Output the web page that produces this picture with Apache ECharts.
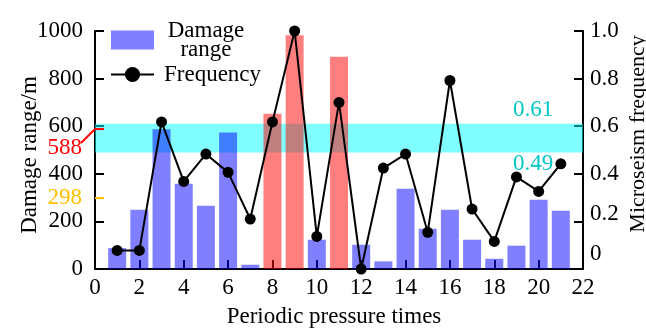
<!DOCTYPE html>
<html>
<head>
<meta charset="utf-8">
<script src="https://cdn.jsdelivr.net/npm/echarts@6/dist/echarts.min.js"></script>
<style>html,body{margin:0;padding:0;background:#fff}#c{width:646px;height:329px}</style>
</head>
<body>
<div id="c"></div>
<script>
const times = [1,2,3,4,5,6,7,8,9,10,11,12,13,14,15,16,17,18,19,20,21];
const damageRange = [88,249,587,358,266,574,18,652,982,123,892,102,32,337,169,249,123,43,98,291,245];
const frequency = [0.078,0.078,0.618,0.368,0.483,0.406,0.21,0.618,1.0,0.137,0.70,0.0,0.424,0.483,0.154,0.792,0.252,0.116,0.387,0.326,0.442];
const redBars = [8,9,11];
const bandLow = 0.49, bandHigh = 0.61;
const mark588 = 588, mark298 = 298;

const FONT = 'Liberation Serif';
const FS = 23;
const BLUE = 'rgba(0,0,255,0.5)';
const RED = 'rgba(255,0,0,0.5)';
const CYANTXT = '#00c8c8';

const chart = echarts.init(document.getElementById('c'), null, {renderer:'canvas'});
const axisCommon = {
  axisLine:{show:true, lineStyle:{color:'#000', width:2}},
  axisTick:{show:true, inside:true, length:9, lineStyle:{color:'#000', width:2}},
  splitLine:{show:false},
  nameMoveOverlap:false,
  axisLabel:{color:'#000', fontFamily:FONT, fontSize:FS},
  nameTextStyle:{color:'#000', fontFamily:FONT, fontSize:FS}
};
const option = {
  animation:false,
  textStyle:{fontFamily:FONT},
  grid:{left:95, right:63, top:31, bottom:60, containLabel:false, outerBoundsMode:'none'},
  legend:{
    left:105, top:14, orient:'vertical', itemGap:2,
    itemWidth:43, itemHeight:19,
    textStyle:{fontFamily:FONT, fontSize:FS, color:'#000'},
    data:[
      {name:'Damage\nrange', icon:'rect', textStyle:{rich:{a:{width:94, align:'center', fontFamily:FONT, fontSize:FS, lineHeight:19}}}},
      {name:'Frequency', textStyle:{padding:[0,0,0,5]}}
    ],
    formatter:function(n){ return n.indexOf('Damage')===0 ? '{a|' + n + '}' : n; }
  },
  xAxis:Object.assign({}, axisCommon, {
    type:'value', min:0, max:22, interval:2,
    name:'Periodic pressure times', nameLocation:'middle', nameGap:36,
    nameTextStyle:{color:'#000', fontFamily:FONT, fontSize:FS, padding:[0,10,0,0]},
    axisLabel:Object.assign({}, axisCommon.axisLabel, {margin:7})
  }),
  yAxis:[
    Object.assign({}, axisCommon, {
      type:'value', min:0, max:1000, interval:200, position:'left',
      name:'Damage range/m', nameLocation:'middle', nameGap:54,
      nameTextStyle:{color:'#000', fontFamily:FONT, fontSize:FS, padding:[0,10,0,0]},
      axisLabel:Object.assign({}, axisCommon.axisLabel, {margin:12,
        formatter:function(v){ return String(v); }})
    }),
    Object.assign({}, axisCommon, {
      type:'value', min:0, max:1, interval:0.2, position:'right',
      name:'Microseism frequency', nameLocation:'middle', nameGap:44,
      nameTextStyle:{color:'#000', fontFamily:FONT, fontSize:22, padding:[0,0,0,32]},
      axisLabel:Object.assign({}, axisCommon.axisLabel, {margin:7,
        formatter:function(v){
          if (v === 0) return '{lo|0}';
          if (Math.abs(v - 0.2) < 1e-9) return '{mid|0.2}';
          return v.toFixed(1);
        },
        rich:{
          lo:{fontFamily:FONT, fontSize:FS, color:'#000', padding:[0,0,30,0]},
          mid:{fontFamily:FONT, fontSize:FS, color:'#000', padding:[0,0,14,0]}
        }})
    })
  ],
  series:[
    {
      type:'line', name:'band', yAxisIndex:1, data:[], z:1, silent:true,
      markArea:{silent:true, itemStyle:{color:'rgba(0,255,255,0.5)'},
        data:[[{yAxis:bandLow, x:95},{yAxis:bandHigh, x:583}]]}
    },
    {
      type:'bar', name:'Damage\nrange', yAxisIndex:0, barWidth:18, z:2,
      itemStyle:{color:BLUE},
      data:times.map(function(t,i){
        return {value:[t, damageRange[i]], itemStyle:{color: redBars.indexOf(t)>=0 ? RED : BLUE}};
      })
    },
    {
      type:'line', name:'Frequency', yAxisIndex:1, z:3,
      symbol:'circle', symbolSize:11,
      lineStyle:{color:'#000', width:2}, itemStyle:{color:'#000'},
      data:times.map(function(t,i){ return [t, frequency[i]]; })
    }
  ]
};
chart.setOption(option);

// annotations placed through the chart's own scales
const x0 = chart.convertToPixel({xAxisIndex:0}, 0);
const y588 = chart.convertToPixel({yAxisIndex:0}, mark588);
const y298 = chart.convertToPixel({yAxisIndex:0}, mark298);
const yHi = chart.convertToPixel({yAxisIndex:1}, bandHigh);
const yLo = chart.convertToPixel({yAxisIndex:1}, bandLow);
const xLab = chart.convertToPixel({xAxisIndex:0}, 19.75);
const F = FS + 'px "Liberation Serif"';
chart.setOption({
  graphic:[
    {type:'line', z:10, shape:{x1:x0, y1:y588, x2:x0+9, y2:y588}, style:{stroke:'#ff0000', lineWidth:2}},
    {type:'line', z:10, shape:{x1:x0-14, y1:y588+14, x2:x0, y2:y588}, style:{stroke:'#ff0000', lineWidth:2}},
    {type:'text', z:10, style:{text:String(mark588), x:x0-13, y:y588+19, align:'right', verticalAlign:'middle', fill:'#ff0000', font:F}},
    {type:'line', z:10, shape:{x1:x0, y1:y298, x2:x0+9, y2:y298}, style:{stroke:'#ffc000', lineWidth:2}},
    {type:'text', z:10, style:{text:String(mark298), x:x0-13, y:y298, align:'right', verticalAlign:'middle', fill:'#ffc000', font:F}},
    {type:'text', z:10, style:{text:bandHigh.toFixed(2), x:xLab, y:yHi-14, align:'center', verticalAlign:'middle', fill:CYANTXT, font:F}},
    {type:'text', z:10, style:{text:bandLow.toFixed(2), x:xLab, y:yLo+12, align:'center', verticalAlign:'middle', fill:CYANTXT, font:F}}
  ]
});
</script>
</body>
</html>
